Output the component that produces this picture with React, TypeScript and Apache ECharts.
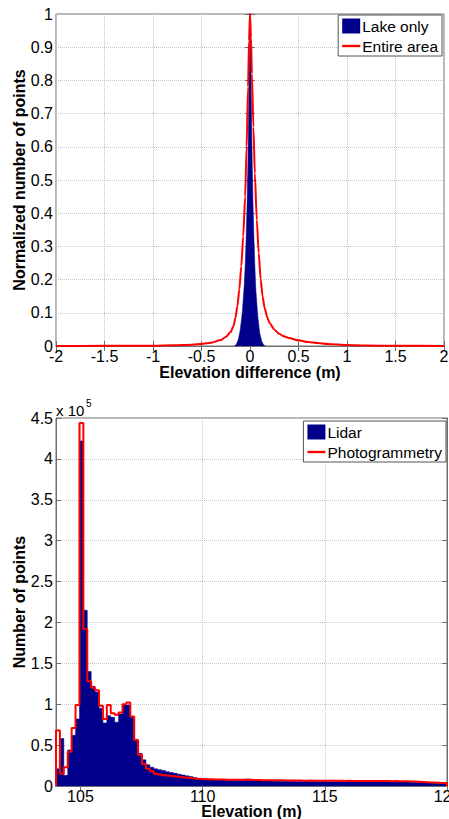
import React, { useEffect, useRef } from 'react';
import * as echarts from 'echarts';

// ---------- Top chart: normalized histograms of elevation difference ----------
const lakeX = [-0.16, -0.14, -0.12, -0.1, -0.08, -0.06, -0.05, -0.04, -0.03, -0.02, -0.01, 0, 0.01, 0.02, 0.03, 0.04, 0.05, 0.06, 0.08, 0.1, 0.12, 0.14, 0.16];
const lakeOnly = [0, 0.005, 0.02, 0.05, 0.1, 0.18, 0.24, 0.32, 0.43, 0.58, 0.8, 1.0, 0.82, 0.6, 0.44, 0.33, 0.24, 0.17, 0.09, 0.04, 0.015, 0.003, 0];

const entireX = [-2, -1.5, -1, -0.8, -0.6, -0.5, -0.4, -0.3, -0.25, -0.2, -0.17, -0.15, -0.13, -0.11, -0.09, -0.07, -0.05, -0.035, -0.02, -0.01, 0, 0.01, 0.02, 0.035, 0.05, 0.07, 0.09, 0.11, 0.13, 0.15, 0.18, 0.2, 0.25, 0.3, 0.35, 0.4, 0.5, 0.6, 0.7, 0.8, 1.0, 1.2, 1.5, 2];
const entireArea = [0, 0.0005, 0.001, 0.002, 0.004, 0.006, 0.01, 0.018, 0.027, 0.042, 0.06, 0.085, 0.12, 0.17, 0.24, 0.33, 0.45, 0.6, 0.78, 0.92, 1.0, 0.93, 0.82, 0.66, 0.52, 0.38, 0.28, 0.2, 0.15, 0.115, 0.085, 0.07, 0.05, 0.037, 0.029, 0.024, 0.017, 0.012, 0.009, 0.006, 0.003, 0.0015, 0.0007, 0];

// ---------- Bottom chart: histograms of elevation (100 bins, 104 to 120 m) ----------
const BIN_START = 104;
const BIN_WIDTH = 0.16;
const lidar = [
  21000, 58000, 13000, 44000, 62000, 82000, 422000, 215000, 140000, 122000,
  115000, 95000, 77000, 86000, 84000, 78000, 88000, 99000, 99000, 84000,
  57000, 40000, 32000, 26000, 23000, 21000, 20000, 19000, 17500, 16500,
  15500, 14500, 13500, 12500, 11500, 10500, 9500, 8800, 8200, 7800,
  7500, 7300, 7100, 7000, 6800, 6700, 6600, 6800, 7200, 6800,
  6400, 6200, 6100, 6000, 6000, 5900, 5800, 5800, 5700, 5700,
  5600, 5600, 5500, 5400, 5500, 5400, 5300, 5400, 5300, 5200,
  5300, 5200, 5200, 5100, 5200, 5100, 5000, 5000, 5100, 5000,
  5000, 4900, 5000, 4900, 5000, 5100, 5200, 5000, 4900, 4800,
  4600, 4500, 4300, 4100, 3900, 3600, 3400, 3200, 3100, 3000,
];
const photogrammetry = [
  68000, 15000, 23000, 42000, 71000, 99000, 444000, 192000, 128000, 120000,
  117000, 98000, 82000, 99000, 89000, 87000, 90000, 100000, 102000, 85000,
  56000, 38000, 27000, 21000, 18000, 15000, 14000, 13000, 12500, 12000,
  11500, 11000, 10500, 10000, 9500, 9000, 8700, 8500, 8300, 8200,
  8000, 7900, 7800, 7700, 7700, 7600, 7500, 7600, 7800, 7500,
  7300, 7200, 7100, 7100, 7000, 7000, 6900, 6900, 6800, 6800,
  6700, 6800, 6600, 6500, 6600, 6500, 6400, 6500, 6400, 6300,
  6400, 6300, 6300, 6200, 6300, 6200, 6200, 6100, 6200, 6100,
  6100, 6000, 6100, 6000, 6000, 5900, 6000, 5900, 5800, 5700,
  5600, 5400, 5200, 5000, 4700, 4400, 4200, 4000, 3800, 3600,
];
const elevTicks = [105, 110, 115, 120];

const NAVY = '#00008B';
const RED = '#FF0000';
const AXIS = '#6e6e6e';
const GRIDLINE = '#c4c4c4';
const FONT = '"Liberation Sans", Arial, sans-serif';
const LINE_ICON = 'path://M0,0H18V2.4H0Z';

function stairs(values: number[]) {
  const pts: number[][] = [[BIN_START, 0]];
  values.forEach((v, i) => pts.push([BIN_START + i * BIN_WIDTH, v]));
  const end = BIN_START + values.length * BIN_WIDTH;
  pts.push([end, values[values.length - 1]]);
  pts.push([end, 0]);
  return pts;
}

export default function App() {
  const ref = useRef<HTMLDivElement>(null);
  useEffect(() => {
    if (!ref.current) return;
    const chart = echarts.init(ref.current, undefined, { renderer: 'svg' });
    const labelStyle = { color: '#000', fontSize: 16, lineHeight: 14, fontFamily: FONT };
    const nameStyle = { color: '#000', fontSize: 16, lineHeight: 16, fontWeight: 'bold' as const, fontFamily: FONT };
    const line = { show: true, lineStyle: { color: AXIS, width: 1 } };
    const tick = { show: true, inside: true, length: 5, lineStyle: { color: AXIS } };
    const split = { show: true, lineStyle: { color: GRIDLINE, type: 'dotted' as const, width: 1 } };
    const legendBase = {
      orient: 'vertical', itemWidth: 18, itemHeight: 15, itemGap: 4,
      padding: [3, 4, 2, 4], backgroundColor: '#fff', borderColor: '#555', borderWidth: 1,
      textStyle: { color: '#000', fontSize: 15.5, fontFamily: FONT, lineHeight: 16, padding: [0, 0, 0, -3] },
      selectedMode: false,
    };

    chart.setOption({
      animation: false,
      backgroundColor: '#fff',
      grid: [
        { left: 56, top: 14, width: 388, height: 332, show: true, borderColor: AXIS, borderWidth: 1, containLabel: false, outerBoundsMode: 'none' },
        { left: 56, top: 418, width: 391, height: 368, show: true, borderColor: AXIS, borderWidth: 1, containLabel: false, outerBoundsMode: 'none' },
      ],
      xAxis: [
        {
          gridIndex: 0, type: 'value', min: -2, max: 2, interval: 0.5,
          axisLine: line, axisTick: tick, splitLine: split,
          axisLabel: { ...labelStyle, margin: 3 },
          name: 'Elevation difference (m)', nameLocation: 'middle', nameGap: 18, nameMoveOverlap: false, nameTextStyle: nameStyle,
        },
        {
          gridIndex: 0, type: 'value', position: 'top', min: -2, max: 2, interval: 0.5,
          axisLine: line, axisTick: tick, splitLine: { show: false }, axisLabel: { show: false },
        },
        {
          gridIndex: 1, type: 'value', min: BIN_START, max: 120,
          axisLine: line,
          axisTick: { ...tick, customValues: elevTicks },
          splitLine: split,
          axisLabel: { ...labelStyle, margin: 3, customValues: elevTicks },
          name: 'Elevation (m)', nameLocation: 'middle', nameGap: 17, nameMoveOverlap: false, nameTextStyle: nameStyle,
        },
        {
          gridIndex: 1, type: 'value', position: 'top', min: BIN_START, max: 120,
          axisLine: line, axisTick: { ...tick, customValues: elevTicks },
          splitLine: { show: false }, axisLabel: { show: false, customValues: elevTicks },
        },
      ],
      yAxis: [
        {
          gridIndex: 0, type: 'value', min: 0, max: 1, interval: 0.1,
          axisLine: line, axisTick: tick, splitLine: split,
          axisLabel: { ...labelStyle, margin: 3 },
          name: 'Normalized number of points', nameLocation: 'middle', nameGap: 29, nameMoveOverlap: false, nameTextStyle: nameStyle,
        },
        {
          gridIndex: 0, type: 'value', position: 'right', min: 0, max: 1, interval: 0.1,
          axisLine: line, axisTick: tick, splitLine: { show: false }, axisLabel: { show: false },
        },
        {
          gridIndex: 1, type: 'value', min: 0, max: 450000, interval: 50000,
          axisLine: line, axisTick: tick, splitLine: split,
          axisLabel: { ...labelStyle, margin: 3, formatter: (v: number) => String(v / 100000) },
          name: 'Number of points', nameLocation: 'middle', nameGap: 29, nameMoveOverlap: false, nameTextStyle: nameStyle,
        },
        {
          gridIndex: 1, type: 'value', position: 'right', min: 0, max: 450000, interval: 50000,
          axisLine: line, axisTick: tick, splitLine: { show: false }, axisLabel: { show: false },
        },
      ],
      legend: [
        {
          ...legendBase, right: 7, top: 15,
          data: [{ name: 'Lake only', icon: 'rect' }, { name: 'Entire area', icon: LINE_ICON }],
        },
        {
          ...legendBase, right: 3, top: 421,
          data: [{ name: 'Lidar', icon: 'rect' }, { name: 'Photogrammetry', icon: LINE_ICON }],
        },
      ],
      graphic: [
        { type: 'text', x: 56, y: 410, style: { text: 'x 10', fontSize: 15, fontFamily: FONT, fill: '#000', verticalAlign: 'middle' } },
        { type: 'text', x: 86, y: 403, style: { text: '5', fontSize: 10, fontFamily: FONT, fill: '#000', verticalAlign: 'middle' } },
      ],
      series: [
        {
          name: 'Lake only', type: 'line', xAxisIndex: 0, yAxisIndex: 0,
          data: lakeX.map((x, i) => [x, lakeOnly[i]]),
          symbol: 'none', showSymbol: false,
          lineStyle: { color: NAVY, width: 0.5 }, itemStyle: { color: NAVY },
          areaStyle: { color: NAVY, opacity: 1 }, z: 2,
        },
        {
          name: 'Entire area', type: 'line', xAxisIndex: 0, yAxisIndex: 0,
          data: entireX.map((x, i) => [x, entireArea[i]]),
          symbol: 'none', showSymbol: false, smooth: 0.25, smoothMonotone: 'x',
          lineStyle: { color: RED, width: 2 }, itemStyle: { color: RED }, z: 3,
        },
        {
          name: 'Lidar', type: 'line', xAxisIndex: 2, yAxisIndex: 2, step: 'end',
          data: stairs(lidar),
          symbol: 'none', showSymbol: false,
          lineStyle: { color: NAVY, width: 0.5 }, itemStyle: { color: NAVY },
          areaStyle: { color: NAVY, opacity: 1 }, z: 2,
        },
        {
          name: 'Photogrammetry', type: 'line', xAxisIndex: 2, yAxisIndex: 2, step: 'end',
          data: stairs(photogrammetry),
          symbol: 'none', showSymbol: false,
          lineStyle: { color: RED, width: 2 }, itemStyle: { color: RED }, z: 3,
        },
      ],
    });
    return () => chart.dispose();
  }, []);
  return <div ref={ref} style={{ position: 'absolute', left: 0, top: 0, width: 449, height: 819 }} />;
}
